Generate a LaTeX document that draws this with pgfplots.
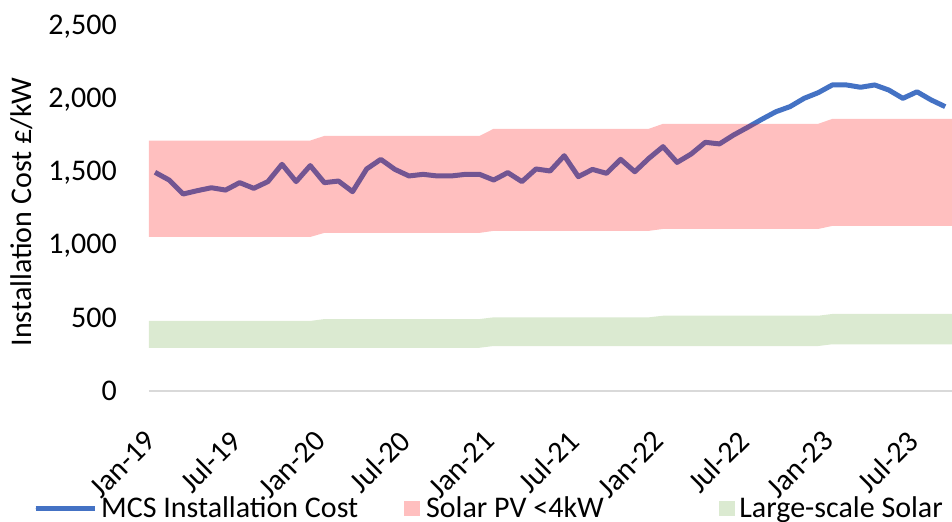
\documentclass[border=0pt]{standalone}
\usepackage{pgfplots}
\pgfplotsset{compat=1.18}
\usepackage{fontspec}
\setmainfont{Carlito}
\definecolor{mcsblue}{HTML}{4472C4}
\definecolor{bandgreen}{HTML}{70AD47}
\newcommand{\lstrut}{\rule[-6bp]{0pt}{30bp}}
\begin{document}
\begin{tikzpicture}
\fontsize{30bp}{36bp}\selectfont
\begin{axis}[
  name=ax,
  scale only axis,
  width=803bp, height=364bp,
  xmin=-0.425, xmax=56.48,
  ymin=0, ymax=2500,
  axis x line*=bottom, axis y line*=left,
  x axis line style={draw=black!15, line width=1.5bp},
  y axis line style={draw=none},
  tick style={draw=none},
  ytick={0,500,1000,1500,2000,2500},
  xtick={0,6,12,18,24,30,36,42,48,54},
  xticklabels={Jan-19,Jul-19,Jan-20,Jul-20,Jan-21,Jul-21,Jan-22,Jul-22,Jan-23,Jul-23},
  scaled y ticks=false,
  /pgf/number format/.cd, 1000 sep={,}, assume math mode=true, /pgfplots/.cd,
  tick label style={font=\fontsize{30bp}{36bp}\selectfont},
  yticklabel style={anchor=east, inner sep=0pt, xshift=-32bp},
  xticklabel style={xshift=-4bp, yshift=-45bp, rotate=45, anchor=east, inner sep=0pt},
  ylabel={Installation Cost £/kW},
  ylabel style={at={(axis description cs:-0.158,0.492)}, anchor=center, font=\fontsize{30bp}{36bp}\selectfont},
  legend style={at={(axis description cs:-0.1445,-0.3214)}, anchor=west, draw=none, fill=none,
    inner sep=0pt, nodes={inner sep=0pt}, font=\fontsize{30bp}{36bp}\selectfont,
    /tikz/every even column/.append style={column sep=0pt},
    /tikz/every odd column/.append style={column sep=0pt}},
  legend columns=3,
  legend cell align=left,
]
\addplot[color=mcsblue, line width=5bp, line join=round,
  legend image code/.code={\path (0bp,-1bp) -- (59bp,-1bp);\draw[mcsblue, line width=5bp, line cap=round] (2.5bp,-1bp) -- (56.5bp,-1bp);}]
coordinates {
(0,1502) (1,1449) (2,1353) (3,1376) (4,1396) (5,1380) (6,1431) (7,1392) (8,1438) (9,1557)
(10,1438) (11,1548) (12,1431) (13,1442) (14,1369) (15,1525) (16,1591) (17,1522) (18,1477) (19,1488)
(20,1477) (21,1477) (22,1488) (23,1488) (24,1449) (25,1500) (26,1438) (27,1525) (28,1511) (29,1616)
(30,1472) (31,1522) (32,1495) (33,1591) (34,1506) (35,1598) (36,1678) (37,1570) (38,1628) (39,1708)
(40,1697) (41,1758) (42,1811) (43,1866) (44,1918) (45,1953) (46,2010) (47,2049) (48,2102) (49,2102)
(50,2086) (51,2102) (52,2067) (53,2010) (54,2055) (55,1999) (56,1953)
};
\addlegendentry{\makebox[307bp][l]{\lstrut\hspace{4bp}MCS Installation Cost}}
\addplot[draw=none, fill=red, fill opacity=0.25,
  legend image code/.code={\fill[red, fill opacity=0.25] (0bp,-8bp) rectangle (16bp,7bp);}]
coordinates {
(-0.5,1720) (11,1720) (12,1752) (23,1752) (24,1801) (35,1801) (36,1835) (47,1835) (48,1869) (57,1869)
(57,1134) (48,1134) (47,1113) (36,1113) (35,1100) (24,1100) (23,1086) (12,1086) (11,1058) (-0.5,1058)
} -- cycle;
\addlegendentry{\makebox[298.7bp][l]{\lstrut\hspace{6bp}Solar PV <4kW}}
\addplot[draw=none, fill=bandgreen, fill opacity=0.25,
  legend image code/.code={\fill[bandgreen, fill opacity=0.25] (0bp,-8bp) rectangle (16bp,7bp);}]
coordinates {
(-0.5,481) (11,481) (12,494) (23,494) (24,506) (35,506) (36,517) (47,517) (48,529) (57,529)
(57,321) (48,321) (47,309) (36,309) (35,309) (24,309) (23,297) (12,297) (11,296) (-0.5,296)
} -- cycle;
\addlegendentry{\lstrut\hspace{4.5bp}Large-scale Solar}
\end{axis}
\pgfresetboundingbox
\path[use as bounding box] ([xshift=-149bp,yshift=-131bp]ax.south west) rectangle ([xshift=803bp,yshift=391bp]ax.south west);
\end{tikzpicture}
\end{document}
